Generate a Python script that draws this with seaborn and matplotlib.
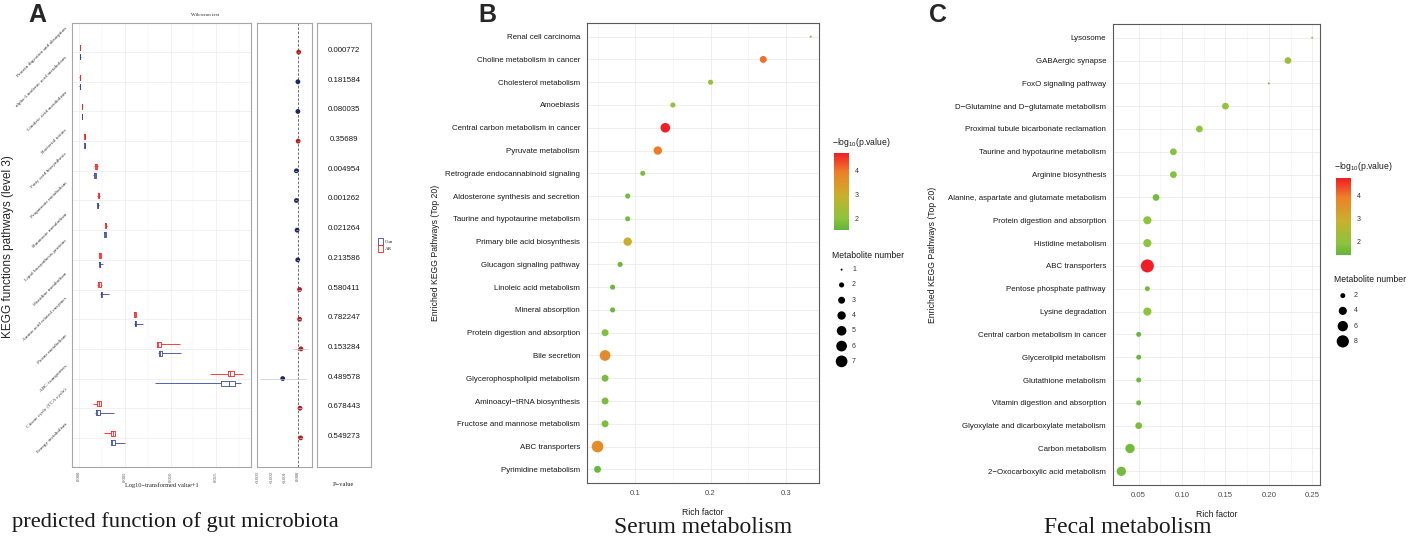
import numpy as np
import pandas as pd
import matplotlib
matplotlib.use("Agg")
import matplotlib.pyplot as plt
import seaborn as sns
from matplotlib.colors import LinearSegmentedColormap, Normalize
from matplotlib.patches import Patch
import matplotlib.colorbar as mcb

sns.set_theme(style="white")
plt.rcParams['font.family'] = ['Liberation Sans', 'DejaVu Sans']
plt.rcParams['mathtext.fontset'] = 'custom'
plt.rcParams['mathtext.rm'] = 'Liberation Sans'
plt.rcParams['mathtext.it'] = 'Liberation Sans:italic'
SERIF = ['Liberation Serif', 'DejaVu Serif']

# ---------------- Panel A data ----------------
a_pathways = ["Protein digestion and absorption", "alpha-Linolenic acid metabolism",
              "Linoleic acid metabolism", "Bacterial toxins", "Fatty acid biosynthesis",
              "Propanoate metabolism", "Butanoate metabolism", "Lipid biosynthesis proteins",
              "Histidine metabolism", "Amino acid related enzymes", "Purine metabolism",
              "ABC transporters", "Citrate cycle (TCA cycle)", "Energy metabolism"]
ar_low = [0.00008, 0.00005, 0.00030, 0.00058, 0.00164, 0.00200, 0.00281, 0.00215, 0.00193, 0.00597, 0.00852, 0.01430, 0.00150, 0.00273]
ar_q1 = [0.00010, 0.00007, 0.00031, 0.00060, 0.00177, 0.00207, 0.00284, 0.00222, 0.00207, 0.00604, 0.00855, 0.01623, 0.00193, 0.00353]
ar_med = [0.00011, 0.00008, 0.00033, 0.00062, 0.00186, 0.00215, 0.00292, 0.00229, 0.00222, 0.00611, 0.00862, 0.01649, 0.00215, 0.00371]
ar_q3 = [0.00012, 0.00009, 0.00035, 0.00064, 0.00194, 0.00222, 0.00298, 0.00236, 0.00240, 0.00618, 0.00892, 0.01689, 0.00237, 0.00390]
ar_high = [0.00014, 0.00010, 0.00037, 0.00067, 0.00211, 0.00233, 0.00302, 0.00243, 0.00248, 0.00626, 0.01103, 0.01794, 0.00246, 0.00393]
con_low = [0.00009, 0.00005, 0.00029, 0.00058, 0.00156, 0.00197, 0.00273, 0.00215, 0.00229, 0.00604, 0.00866, 0.00830, 0.00178, 0.00349]
con_q1 = [0.00011, 0.00007, 0.00031, 0.00060, 0.00162, 0.00199, 0.00276, 0.00218, 0.00236, 0.00607, 0.00870, 0.01547, 0.00182, 0.00353]
con_med = [0.00013, 0.00008, 0.00033, 0.00062, 0.00171, 0.00204, 0.00284, 0.00226, 0.00243, 0.00611, 0.00884, 0.01634, 0.00202, 0.00364]
con_q3 = [0.00015, 0.00009, 0.00035, 0.00064, 0.00181, 0.00210, 0.00290, 0.00233, 0.00251, 0.00620, 0.00903, 0.01700, 0.00233, 0.00396]
con_high = [0.00025, 0.00011, 0.00038, 0.00066, 0.00186, 0.00214, 0.00297, 0.00265, 0.00331, 0.00702, 0.01114, 0.01765, 0.00382, 0.00506]
diff_est = [0.00005, -0.00001, -0.00001, 0.00001, -0.00012, -0.00012, -0.00007, -0.00002, 0.00012, 0.00012, 0.00022, -0.00115, 0.00015, 0.00020]
diff_lo = [0.00002, -0.00003, -0.00003, -0.00002, -0.00020, -0.00020, -0.00015, -0.00008, 0.00002, 0.00002, -0.00035, -0.00285, 0.00003, 0.00006]
diff_hi = [0.00008, 0.00001, 0.00001, 0.00004, -0.00004, -0.00004, 0.00001, 0.00004, 0.00022, 0.00022, 0.00077, 0.00060, 0.00027, 0.00034]
p_values = ["0.000772", "0.181584", "0.080035", "0.35689", "0.004954", "0.001262", "0.021264",
            "0.213586", "0.580411", "0.782247", "0.153284", "0.489578", "0.678443", "0.549273"]
a_xticks = [0.000, 0.005, 0.010, 0.015]
mid_xticks = [-0.003, -0.002, -0.001, 0.000]

# ---------------- Panel B data ----------------
b_pathways = ["Renal cell carcinoma", "Choline metabolism in cancer", "Cholesterol metabolism",
              "Amoebiasis", "Central carbon metabolism in cancer", "Pyruvate metabolism",
              "Retrograde endocannabinoid signaling", "Aldosterone synthesis and secretion",
              "Taurine and hypotaurine metabolism", "Primary bile acid biosynthesis",
              "Glucagon signaling pathway", "Linoleic acid metabolism", "Mineral absorption",
              "Protein digestion and absorption", "Bile secretion", "Glycerophospholipid metabolism",
              "Aminoacyl\u2212tRNA biosynthesis", "Fructose and mannose metabolism",
              "ABC transporters", "Pyrimidine metabolism"]
b_rich = [0.333, 0.27, 0.20, 0.15, 0.14, 0.13, 0.11, 0.09, 0.09, 0.09, 0.08, 0.07, 0.07,
          0.06, 0.06, 0.06, 0.06, 0.06, 0.05, 0.05]
b_count = [1, 3, 2, 2, 5, 4, 2, 2, 2, 4, 2, 2, 2, 3, 6, 3, 3, 3, 7, 3]
b_logp = [1.6, 4.05, 2.2, 2.0, 4.73, 3.95, 1.8, 1.7, 1.7, 3.0, 1.6, 1.6, 1.6, 1.85, 3.7,
          1.8, 1.8, 1.8, 3.65, 1.6]
b_xticks = [0.1, 0.2, 0.3]
b_size_levels = [1, 2, 3, 4, 5, 6, 7]

# ---------------- Panel C data ----------------
c_pathways = ["Lysosome", "GABAergic synapse", "FoxO signaling pathway",
              "D\u2212Glutamine and D\u2212glutamate metabolism",
              "Proximal tubule bicarbonate reclamation", "Taurine and hypotaurine metabolism",
              "Arginine biosynthesis", "Alanine, aspartate and glutamate metabolism",
              "Protein digestion and absorption", "Histidine metabolism", "ABC transporters",
              "Pentose phosphate pathway", "Lysine degradation",
              "Central carbon metabolism in cancer", "Glycerolipid metabolism",
              "Glutathione metabolism", "Vitamin digestion and absorption",
              "Glyoxylate and dicarboxylate metabolism", "Carbon metabolism",
              "2\u2212Oxocarboxylic acid metabolism"]
c_rich = [0.25, 0.222, 0.20, 0.15, 0.12, 0.09, 0.09, 0.07, 0.06, 0.06, 0.06, 0.06, 0.06,
          0.05, 0.05, 0.05, 0.05, 0.05, 0.04, 0.03]
c_count = [1, 3, 1, 3, 3, 3, 3, 3, 4, 4, 9, 2, 4, 2, 2, 2, 2, 3, 5, 5]
c_logp = [2.0, 2.1, 1.5, 2.0, 1.9, 1.8, 1.8, 1.6, 1.9, 1.9, 4.79, 1.6, 1.9, 1.45, 1.5,
          1.5, 1.5, 1.7, 1.6, 1.6]
c_xticks = [0.05, 0.10, 0.15, 0.20, 0.25]
c_size_levels = [2, 4, 6, 8]

# ---------------- figure ----------------
W, H = 1417, 538
fig = plt.figure(figsize=(W / 100, H / 100), dpi=100)
fig.patch.set_facecolor('white')


def box(l, t, r, b):
    return [l / W, 1 - b / H, (r - l) / W, (b - t) / H]


cmap = LinearSegmentedColormap.from_list(
    "gr", [(0.0, "#62B53A"), (0.15, "#8CC43C"), (0.45, "#C8B02C"), (0.75, "#EE7F27"), (1.0, "#F21D25")])

# ====== Panel A: boxplots ======
rows = []
for i, p in enumerate(a_pathways):
    for v in (ar_low[i], ar_q1[i], ar_med[i], ar_q3[i], ar_high[i]):
        rows.append((p, "AR", v))
    for v in (con_low[i], con_q1[i], con_med[i], con_q3[i], con_high[i]):
        rows.append((p, "Con", v))
dfA = pd.DataFrame(rows, columns=["pathway", "group", "value"])
a_colors = {"AR": "#FF1E1E", "Con": "#3746A4"}

axA = fig.add_axes(box(72, 23, 251, 467))
sns.boxplot(data=dfA, x="value", y="pathway", hue="group", order=a_pathways,
            hue_order=["AR", "Con"], palette=a_colors, fill=False, width=0.62, gap=0.45,
            whis=(0, 100), linewidth=0.6, showcaps=False, fliersize=0, legend=False, ax=axA)
axA.set_ylim(13.98, -0.98)
axA.set_xlim(-0.00076, 0.01878)
axA.set_xlabel("")
axA.set_ylabel("")
axA.set_xticks(a_xticks)
axA.set_xticklabels([f"{t:.3f}" for t in a_xticks], rotation=90, fontsize=3.4,
                    family=SERIF, color="#4D4D4D")
axA.set_xticks([0.0025, 0.0075, 0.0125, 0.0175], minor=True)
axA.set_yticks(range(len(a_pathways)))
axA.set_yticklabels(a_pathways, rotation=45, ha='right', va='center', fontsize=3.8,
                    family=SERIF, color="#333333")
axA.tick_params(axis='both', which='major', length=2, width=0.4, color="#999999", pad=1.0)
axA.tick_params(axis='x', which='minor', length=0)
axA.grid(True, which='major', color="#EBEBEB", lw=0.5)
axA.grid(True, which='minor', axis='x', color="#F2F2F2", lw=0.35)
axA.set_axisbelow(True)
for s in axA.spines.values():
    s.set_color("#A6A6A6")
    s.set_linewidth(0.8)

# middle panel: difference in mean
axM = fig.add_axes(box(257, 23, 312, 467))
axM.hlines(a_pathways, diff_lo, diff_hi, color="#C8C8C8", lw=0.5)
diff_group = ["AR" if d > 0 else "Con" for d in diff_est]
sns.scatterplot(x=diff_est, y=a_pathways, hue=diff_group,
                palette={"AR": "#B71C22", "Con": "#1C2667"}, s=12, edgecolor='none',
                legend=False, ax=axM)
axM.axvline(0, ls=(0, (3, 2)), color="#555555", lw=0.6, zorder=0)
axM.set_ylim(13.98, -0.98)
axM.set_xlim(-0.00308, 0.00105)
axM.set_yticks([])
axM.set_xticks(mid_xticks)
axM.set_xticklabels([f"{t:.3f}" for t in mid_xticks], rotation=90, fontsize=3.4,
                    family=SERIF, color="#4D4D4D")
axM.tick_params(axis='x', length=2, width=0.4, color="#999999", pad=1.0)
for s in axM.spines.values():
    s.set_color("#A6A6A6")
    s.set_linewidth(0.8)

# right panel: p-values
axP = fig.add_axes(box(317, 23, 371, 467))
for i, p in enumerate(p_values):
    axP.text(0.5, i - 0.05, p, ha='center', va='center', fontsize=5.7, color="#1A1A1A")
axP.set_ylim(13.98, -0.98)
axP.set_xlim(0, 1)
axP.set_xticks([])
axP.set_yticks([])
for s in axP.spines.values():
    s.set_color("#A6A6A6")
    s.set_linewidth(0.8)

fig.text(205 / W, 1 - 15 / H, "Wilcoxon test", ha='center', va='center', fontsize=3.6, family=SERIF)
fig.text(162 / W, 1 - 485 / H, "Log10\u2212transformed value+1", ha='center', va='center',
         fontsize=4.6, family=SERIF)
fig.text(343 / W, 1 - 485 / H, "P\u2212value", ha='center', va='center', fontsize=4.6, family=SERIF)
fig.text(8 / W, 1 - 247 / H, "KEGG functions pathways (level 3)", rotation=90, ha='center',
         va='center', fontsize=8.5)
leg = fig.legend(handles=[Patch(facecolor='white', edgecolor=a_colors["Con"], lw=0.6),
                          Patch(facecolor='white', edgecolor=a_colors["AR"], lw=0.6)],
                 labels=["Con", "AR"], loc='center left', bbox_to_anchor=(375 / W, 1 - 245 / H),
                 frameon=False, prop={'family': SERIF, 'size': 3.6}, handlelength=1.0,
                 handleheight=1.6, labelspacing=0.1, handletextpad=0.5, borderpad=0)


# ====== Panels B and C: bubble plots ======
def bubble(ax, paths, rich, count, logp, vmin, vmax, sizes, snorm, xlim, xticks, xlabels, minor):
    sns.scatterplot(x=rich, y=paths, hue=logp, size=count, palette=cmap, hue_norm=(vmin, vmax),
                    sizes=sizes, size_norm=snorm, edgecolor='none', linewidth=0, legend=False,
                    ax=ax, zorder=3)
    ax.set_ylim(len(paths) - 0.4, -0.6)
    ax.set_xlim(*xlim)
    ax.set_xticks(xticks)
    ax.set_xticklabels(xlabels, fontsize=5.6, color="#4D4D4D")
    ax.set_xticks(minor, minor=True)
    ax.set_yticks(range(len(paths)))
    ax.set_yticklabels(paths, fontsize=5.7, color="#1A1A1A")
    ax.tick_params(axis='both', which='major', length=3, width=0.5, color="#333333", pad=2)
    ax.tick_params(axis='x', which='minor', length=0)
    ax.grid(True, which='major', color="#EBEBEB", lw=0.6)
    ax.grid(True, which='minor', axis='x', color="#F2F2F2", lw=0.4)
    ax.set_axisbelow(True)
    for s in ax.spines.values():
        s.set_color("#5A5A5A")
        s.set_linewidth(0.8)
    ax.set_xlabel("Rich factor", fontsize=6.2, color="#1A1A1A")
    ax.set_ylabel("Enriched KEGG Pathways (Top 20)", fontsize=6.2, color="#1A1A1A")


def legends(cbar_box, vmin, vmax, title_xy, mn_xy, size_box, levels, sizes, snorm, dot_x):
    cax = fig.add_axes(box(*cbar_box))
    cb = mcb.ColorbarBase(cax, cmap=cmap, norm=Normalize(vmin, vmax), orientation='vertical')
    cb.outline.set_visible(False)
    cb.set_ticks([2, 3, 4])
    cax.tick_params(axis='y', length=3, width=0.5, color='white', direction='in', labelsize=5,
                    labelcolor="#333333", pad=4)
    fig.text(title_xy[0] / W, 1 - title_xy[1] / H, r"$-\mathrm{log}_{10}$(p.value)", fontsize=6.2,
             ha='left', va='center', color="#1A1A1A")
    fig.text(mn_xy[0] / W, 1 - mn_xy[1] / H, "Metabolite number", fontsize=6.2, ha='left',
             va='center', color="#1A1A1A")
    lax = fig.add_axes(box(*size_box))
    sns.scatterplot(x=[dot_x] * len(levels), y=levels, size=levels, sizes=sizes, size_norm=snorm,
                    color='black', edgecolor='none', legend=False, ax=lax)
    for lv in levels:
        lax.text(0.45, lv, str(lv), fontsize=5, va='center', ha='left', color="#333333")
    step = levels[1] - levels[0]
    lax.set_ylim(levels[-1] + step / 2, levels[0] - step / 2)
    lax.set_xlim(0, 1)
    lax.axis('off')


axB = fig.add_axes(box(587, 23, 819, 483))
bubble(axB, b_pathways, b_rich, b_count, b_logp, 1.51, 4.73, (2, 71), (1, 7),
       (0.036, 0.344), b_xticks, ["0.1", "0.2", "0.3"], [0.05, 0.15, 0.25])
axB.yaxis.set_label_coords((440 - 587) / 232, 0.5)
axB.xaxis.set_label_coords(0.5, (483 - 508) / 460)
legends((834, 153, 849, 230), 1.51, 4.73, (832, 142), (832, 255), (834, 262, 874, 369),
        b_size_levels, (2, 71), (1, 7), 0.19)

axC = fig.add_axes(box(1113, 24, 1320, 485))
bubble(axC, c_pathways, c_rich, c_count, c_logp, 1.38, 4.79, (2, 88), (1, 9),
       (0.0204, 0.259), c_xticks, ["0.05", "0.10", "0.15", "0.20", "0.25"],
       [0.075, 0.125, 0.175, 0.225])
axC.yaxis.set_label_coords((937 - 1113) / 207, 0.5)
axC.xaxis.set_label_coords(0.5, (485 - 510) / 461)
legends((1336, 178, 1351, 255), 1.38, 4.79, (1334, 167), (1334, 279), (1336, 288, 1376, 349),
        c_size_levels, (2, 88), (1, 9), 0.17)

# panel letters & captions
for x, lab in ((37, "A"), (487, "B"), (938, "C")):
    fig.text(x / W, 1 - 15 / H, lab, fontsize=18, fontweight='bold', ha='center', va='center')
fig.text(175 / W, 1 - 527 / H, "predicted function of gut microbiota", fontsize=16.2,
         family=SERIF, ha='center', va='baseline', color="#1A1A1A")
fig.text(703 / W, 1 - 533 / H, "Serum metabolism", fontsize=17, family=SERIF, ha='center',
         va='baseline', color="#1A1A1A")
fig.text(1128 / W, 1 - 533 / H, "Fecal metabolism", fontsize=17, family=SERIF, ha='center',
         va='baseline', color="#1A1A1A")

fig.savefig("out.png", dpi=100, facecolor='white')
